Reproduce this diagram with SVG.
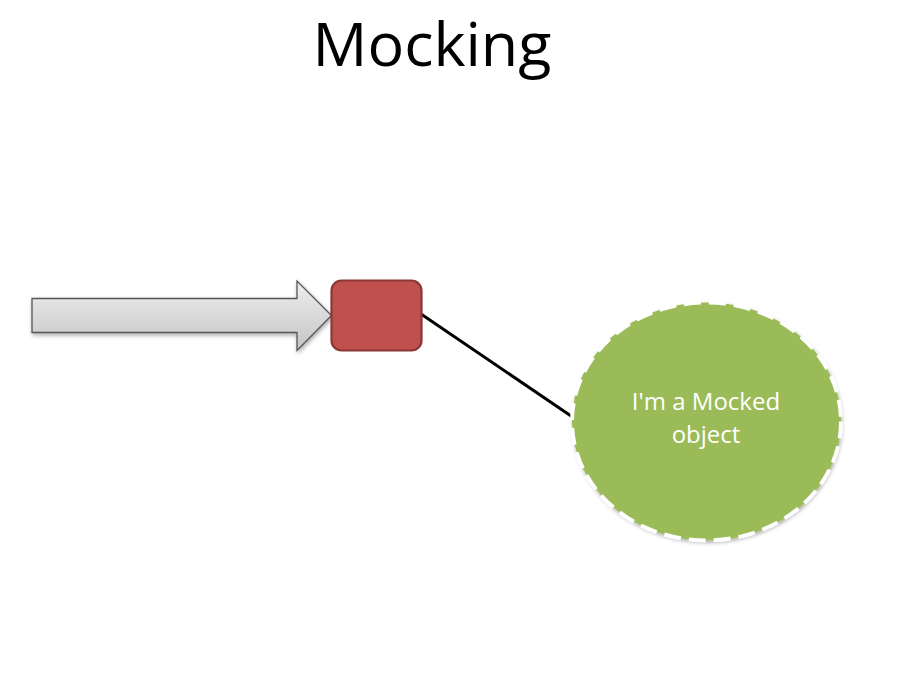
<svg xmlns="http://www.w3.org/2000/svg" width="916" height="691" viewBox="0 0 916 691">
<style>
.title{font-family:"Open Sans","Liberation Sans",sans-serif;font-size:61px;fill:#000}
.lbl{font-family:"Open Sans","Liberation Sans",sans-serif;font-size:24px;fill:#fff}
</style>
<defs>
<linearGradient id="g" x1="0" y1="0" x2="0" y2="1">
<stop offset="0" stop-color="#efefef"/>
<stop offset="1" stop-color="#c4c4c4"/>
</linearGradient>
<filter id="sh" x="-20%" y="-20%" width="140%" height="140%">
<feDropShadow dx="1" dy="2" stdDeviation="2" flood-color="#000" flood-opacity="0.35"/>
</filter>
</defs>
<rect width="916" height="691" fill="#fff"/>
<text class="title" x="432" y="66" text-anchor="middle">Mocking</text>
<g id="connectors">
<line x1="421" y1="314" x2="574" y2="418" stroke="#000" stroke-width="3"/>
</g>
<g id="arrow">
<path d="M32,298.5 H297 V281 L331.5,315.5 L297,350.5 V332.5 H32 Z" fill="url(#g)" stroke="#555" stroke-width="1.3" filter="url(#sh)"/>
</g>
<g id="box">
<rect x="331.5" y="280.5" width="90" height="70" rx="10" fill="#C0504D" stroke="#8C3836" stroke-width="2.2"/>
</g>
<g id="mock">
<ellipse cx="706.5" cy="421.5" rx="134.5" ry="119" fill="#9BBB59" filter="url(#sh)"/>
<ellipse cx="706.5" cy="421.5" rx="134.5" ry="119" fill="none" stroke="#fff" stroke-width="4" stroke-dasharray="17 8"/>
<text class="lbl" text-anchor="middle"><tspan x="706" y="410">I'm a Mocked</tspan><tspan x="706" y="443">object</tspan></text>
</g>
</svg>
